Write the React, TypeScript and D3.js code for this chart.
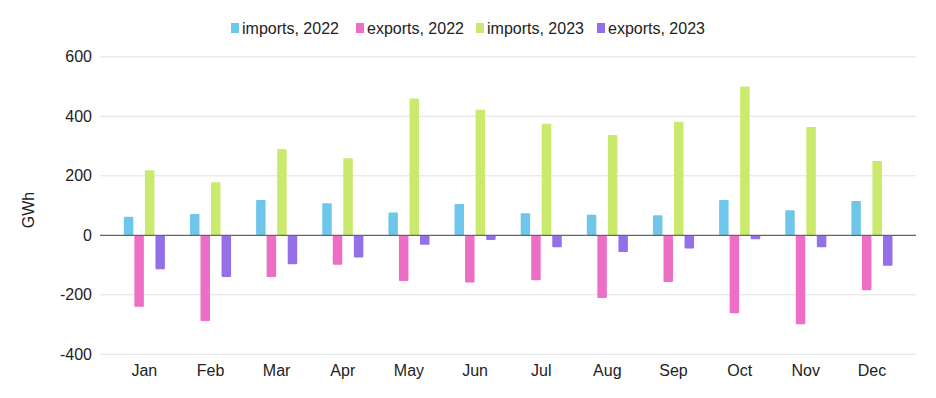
import React from 'react';
import * as d3 from 'd3';

const months = ['Jan', 'Feb', 'Mar', 'Apr', 'May', 'Jun', 'Jul', 'Aug', 'Sep', 'Oct', 'Nov', 'Dec'];
const seriesNames = ['imports, 2022', 'exports, 2022', 'imports, 2023', 'exports, 2023'];
const seriesColors = ['#6ec6ea', '#ec6fc5', '#c9ea6c', '#9370e8'];

const imports2022 = [62, 72, 119, 108, 77, 105, 74, 69, 67, 119, 84, 115];
const exports2022 = [-240, -288, -140, -99, -154, -159, -151, -211, -157, -262, -299, -185];
const imports2023 = [219, 178, 290, 259, 460, 422, 375, 337, 382, 500, 364, 250];
const exports2023 = [-114, -140, -97, -75, -32, -16, -40, -56, -44, -13, -40, -102];

const yTicks = [600, 400, 200, 0, -200, -400];

const W = 936;
const H = 398;
const font = 'Arial, "Liberation Sans", sans-serif';

export default function App() {
  const series = [imports2022, exports2022, imports2023, exports2023];

  const x = d3.scaleBand<string>().domain(months).range([111.3, 905]);
  const inner = d3.scaleBand<number>()
    .domain([0, 1, 2, 3])
    .range([0, x.step()])
    .paddingInner(0.1)
    .paddingOuter(1.19);
  const y = d3.scaleLinear().domain([-400, 600]).range([354.3, 56.8]);

  const gridLeft = 100;
  const gridRight = 916;

  // legend layout
  const legendX = [231, 356, 476, 597];

  return (
    <svg width={W} height={H} style={{ position: 'absolute', left: 0, top: 0 }} fontFamily={font}>
      <rect width={W} height={H} fill="#fff" />

      {/* legend */}
      {seriesNames.map((name, i) => (
        <g key={name} transform={`translate(${legendX[i]},28)`}>
          <rect x={0} y={-5} width={8} height={10} fill={seriesColors[i]} />
          <text x={11} y={0} dy="0.35em" fontSize={16} fill="#222">{name}</text>
        </g>
      ))}

      {/* grid */}
      {yTicks.map(t => (
        <g key={t}>
          {t !== 0 && (
            <line x1={gridLeft} x2={gridRight} y1={y(t)} y2={y(t)} stroke="#e2e2e2" strokeWidth={1} />
          )}
          <text x={92} y={y(t)} dy="0.35em" textAnchor="end" fontSize={16} fill="#222">{t}</text>
        </g>
      ))}

      <text transform="translate(28,210) rotate(-90)" textAnchor="middle" dy="0.35em" fontSize={16} fill="#222">GWh</text>

      {/* bars */}
      {months.map((m, mi) => (
        <g key={m} transform={`translate(${x(m)},0)`}>
          {series.map((vals, si) => {
            const v = vals[mi];
            const y0 = y(0);
            const y1 = y(v);
            return (
              <rect
                key={si}
                x={inner(si)}
                y={Math.min(y0, y1)}
                width={inner.bandwidth()}
                height={Math.abs(y1 - y0)}
                fill={seriesColors[si]}
                rx={1}
              />
            );
          })}
          <text x={x.bandwidth() / 2} y={370} dy="0.35em" textAnchor="middle" fontSize={16} fill="#222">{m}</text>
        </g>
      ))}

      <line x1={gridLeft} x2={gridRight} y1={y(0)} y2={y(0)} stroke="#666" strokeWidth={1.2} />
    </svg>
  );
}
